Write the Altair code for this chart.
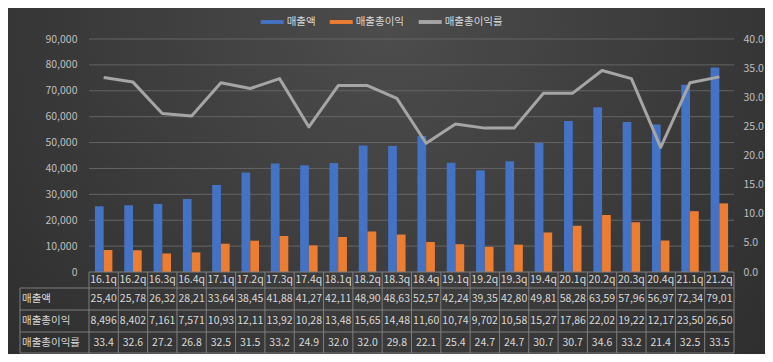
import altair as alt
import pandas as pd

quarters = ["16.1q", "16.2q", "16.3q", "16.4q", "17.1q", "17.2q", "17.3q", "17.4q",
            "18.1q", "18.2q", "18.3q", "18.4q", "19.1q", "19.2q", "19.3q", "19.4q",
            "20.1q", "20.2q", "20.3q", "20.4q", "21.1q", "21.2q"]
revenue = [25400, 25780, 26320, 28210, 33640, 38450, 41880, 41270, 42110, 48900, 48630,
           52570, 42240, 39350, 42800, 49810, 58280, 63590, 57960, 56970, 72340, 79010]
gross_profit = [8496, 8402, 7161, 7571, 10930, 12110, 13920, 10280, 13480, 15650, 14480,
                11600, 10740, 9702, 10580, 15270, 17860, 22020, 19220, 12170, 23500, 26500]
gross_margin = [33.4, 32.6, 27.2, 26.8, 32.5, 31.5, 33.2, 24.9, 32.0, 32.0, 29.8,
                22.1, 25.4, 24.7, 24.7, 30.7, 30.7, 34.6, 33.2, 21.4, 32.5, 33.5]
series_names = ["매출액", "매출총이익", "매출총이익률"]
series_colors = ["#4472C4", "#ED7D31", "#A5A5A5"]
left_ticks = [0, 10000, 20000, 30000, 40000, 50000, 60000, 70000, 80000, 90000]
right_ticks = [0, 5, 10, 15, 20, 25, 30, 35, 40]

W, H = 645, 233
FONT = "Noto Sans CJK KR"
TXT = "#d9d9d9"
AX = "#bfbfbf"
GRIDLINE = "#7f7f7f"

df = pd.DataFrame({"quarter": quarters, "margin": gross_margin})
df["rev_txt"] = [f"{v:,}"[:5] for v in revenue]
df["prof_txt"] = [f"{v:,}"[:5] for v in gross_profit]
df["mar_txt"] = [f"{v:.1f}" for v in gross_margin]

bars_df = pd.concat([
    pd.DataFrame({"quarter": quarters, "series": series_names[0], "value": revenue}),
    pd.DataFrame({"quarter": quarters, "series": series_names[1], "value": gross_profit}),
])

xscale = alt.Scale(domain=quarters, paddingInner=0, paddingOuter=0)
lscale = alt.Scale(domain=[0, 90000], nice=False)


def xq(**kw):
    return alt.X("quarter:N", sort=quarters, scale=xscale, axis=None, **kw)


one = pd.DataFrame({"k": [0]})

bg = alt.Chart(one).mark_rect(
    fill={"gradient": "radial", "x1": 0.5, "y1": 0.3, "r1": 0, "x2": 0.5, "y2": 0.3, "r2": 0.8,
          "stops": [{"offset": 0, "color": "#4c4c4c"}, {"offset": 1, "color": "#282828"}]}
).encode(x=alt.value(-81), x2=alt.value(676), y=alt.value(-31), y2=alt.value(315))

grid = alt.Chart(pd.DataFrame({"v": left_ticks[1:]})).mark_rule(color="#646464", strokeWidth=1).encode(
    y=alt.Y("v:Q", scale=lscale, axis=None), x=alt.value(0), x2=alt.value(W))

bars = alt.Chart(bars_df).mark_bar().encode(
    x=xq(),
    xOffset=alt.XOffset("series:N", sort=series_names[:2],
                        scale=alt.Scale(paddingInner=0, paddingOuter=0.68)),
    y=alt.Y("value:Q", scale=lscale,
            axis=alt.Axis(values=left_ticks, format=",.0f", title=None, domain=False, ticks=False,
                          grid=False, labelColor=AX, labelFont=FONT, zindex=1,
                          labelFontSize=10.5, labelPadding=12)),
    color=alt.Color("series:N", scale=alt.Scale(domain=series_names, range=series_colors),
                    legend=alt.Legend(title=None, orient="none", legendX=171.7, legendY=-28.5,
                                      direction="horizontal",
                                      symbolType="M-1,-0.17L1,-0.17L1,0.17L-1,0.17Z",
                                      symbolSize=529, symbolStrokeWidth=0, symbolOpacity=1,
                                      labelFont=FONT, labelFontSize=10.5, labelColor=TXT,
                                      labelOffset=3, columnPadding=14, padding=0)),
)

line = alt.Chart(df).mark_line(color="#A5A5A5", strokeWidth=3, strokeJoin="round").encode(
    x=xq(),
    y=alt.Y("margin:Q", scale=alt.Scale(domain=[0, 40], nice=False),
            axis=alt.Axis(orient="right", values=right_ticks, format=".1f", title=None,
                          domain=False, ticks=False, grid=False, labelColor=AX, zindex=1,
                          labelFont=FONT, labelFontSize=10.5, labelPadding=9)),
)

row_y = [H, H + 16, H + 38, H + 60, H + 81]
layers = [bg, grid, bars, line]

# table header
layers.append(alt.Chart(df).mark_text(font=FONT, fontSize=10.5, color=TXT, baseline="middle").encode(
    x=xq(), y=alt.value((row_y[0] + row_y[1]) / 2), text="quarter:N"))
for i, col in enumerate(["rev_txt", "prof_txt", "mar_txt"]):
    yc = (row_y[i + 1] + row_y[i + 2]) / 2
    layers.append(alt.Chart(df).mark_text(font=FONT, fontSize=10.5, color=TXT, baseline="middle").encode(
        x=xq(), y=alt.value(yc), text=f"{col}:N"))
    layers.append(alt.Chart(pd.DataFrame({"lab": [series_names[i]]})).mark_text(
        font=FONT, fontSize=10.5, color=TXT, baseline="middle", align="left").encode(
        x=alt.value(-67), y=alt.value(yc), text="lab:N"))

# table grid lines
layers.append(alt.Chart(df).mark_rule(color=GRIDLINE, strokeWidth=1).encode(
    x=xq(bandPosition=0), y=alt.value(row_y[0]), y2=alt.value(row_y[4])))
layers.append(alt.Chart(one).mark_rule(color=GRIDLINE, strokeWidth=1).encode(
    x=alt.value(W), y=alt.value(row_y[0]), y2=alt.value(row_y[4])))
layers.append(alt.Chart(one).mark_rule(color=GRIDLINE, strokeWidth=1).encode(
    x=alt.value(-69), y=alt.value(row_y[1]), y2=alt.value(row_y[4])))
layers.append(alt.Chart(one).mark_rule(color=GRIDLINE, strokeWidth=1).encode(
    x=alt.value(0), x2=alt.value(W), y=alt.value(row_y[0])))
for yy in row_y[1:]:
    layers.append(alt.Chart(one).mark_rule(color=GRIDLINE, strokeWidth=1).encode(
        x=alt.value(-69), x2=alt.value(W), y=alt.value(yy)))

chart = alt.layer(*layers).resolve_scale(y="independent").properties(
    width=W, height=H,
    autosize=alt.AutoSizeParams(type="none"),
    padding={"left": 81, "top": 31, "right": 31, "bottom": 82},
).configure(background="#2a2a2a").configure_view(strokeWidth=0)

chart.save("out.html", embed_options={"renderer": "svg", "actions": False})
